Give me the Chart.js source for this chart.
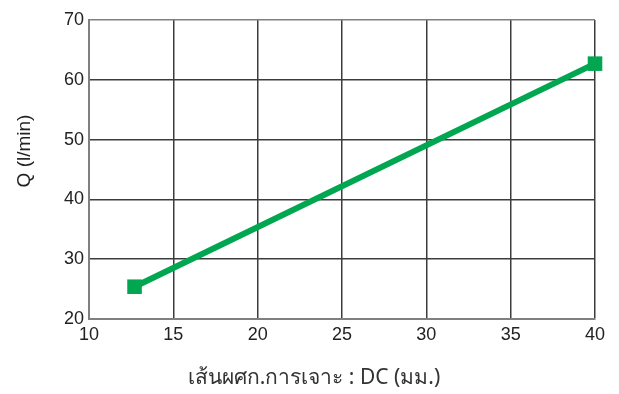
<!DOCTYPE html>
<html>
<head>
<meta charset="utf-8">
<script src="https://cdn.jsdelivr.net/npm/chart.js@4/dist/chart.umd.min.js"></script>
<style>
  html, body { margin: 0; padding: 0; background: #fff; }
  #wrap { width: 619px; height: 394px; }
</style>
</head>
<body>
<div id="wrap"><canvas id="flowChart"></canvas></div>
<script>
// Drill diameter DC (mm) vs flow Q (l/min)
const diameters = [12.7, 40];
const flows = [25.4, 62.7];
const xTicks = [10, 15, 20, 25, 30, 35, 40];
const yTicks = [20, 30, 40, 50, 60, 70];
const xTitle = 'เส้นผศก.การเจาะ : DC (มม.)';
const yTitle = 'Q (l/min)';

const green = '#00a650';
const fontFamily = '"Liberation Sans", "Noto Sans", sans-serif';

const points = diameters.map((d, i) => ({ x: d, y: flows[i] }));

// Inner grid dark, outer frame lighter gray
function gridColor(ctx, edges) {
    const v = ctx.tick ? ctx.tick.value : null;
    return edges.includes(v) ? '#808080' : '#3c3c3c';
}

// axis titles sit off-centre in the original, so draw them by hand
const titlesPlugin = {
    id: 'axisTitles',
    afterDraw(chart) {
        const c = chart.ctx;
        c.save();
        c.textAlign = 'center';
        c.textBaseline = 'middle';

        c.font = '21px "Noto Sans", sans-serif';
        c.fillStyle = '#333';
        c.fillText(xTitle, 314, 378);

        c.font = '19px ' + fontFamily;
        c.fillStyle = '#222';
        c.translate(25, 151);
        c.rotate(-Math.PI / 2);
        c.fillText(yTitle, 0, 0);
        c.restore();
    }
};

const ctx = document.getElementById('flowChart').getContext('2d');
new Chart(ctx, {
    type: 'scatter',
    data: {
        datasets: [{
            data: points,
            showLine: true,
            clip: false,
            borderColor: green,
            backgroundColor: green,
            borderWidth: 6,
            pointStyle: 'rect',
            pointRadius: 10.3,
            pointBorderWidth: 0,
            pointHoverRadius: 10.3
        }]
    },
    options: {
        responsive: true,
        maintainAspectRatio: false,
        animation: false,
        layout: { padding: { top: 20, right: 24, left: 0, bottom: 0 } },
        plugins: {
            legend: { display: false },
            tooltip: { enabled: false }
        },
        scales: {
            x: {
                type: 'linear',
                min: 10,
                max: 40,
                afterBuildTicks: s => { s.ticks = xTicks.map(v => ({ value: v })); },
                afterFit: s => { s.height = 75; },
                grid: {
                    color: c => gridColor(c, [10]),
                    lineWidth: 1.5,
                    drawTicks: false
                },
                border: { color: '#808080', width: 2 },
                ticks: {
                    padding: 5,
                    color: '#222',
                    font: { family: fontFamily, size: 18 },
                    maxRotation: 0
                }
            },
            y: {
                type: 'linear',
                min: 20,
                max: 70,
                afterBuildTicks: s => { s.ticks = yTicks.map(v => ({ value: v })); },
                afterFit: s => { s.width = 89; },
                grid: {
                    color: c => gridColor(c, [20, 70]),
                    lineWidth: 1.5,
                    drawTicks: false
                },
                border: { color: '#808080', width: 2 },
                ticks: {
                    padding: 5,
                    color: '#222',
                    font: { family: fontFamily, size: 18 }
                }
            }
        }
    },
    plugins: [titlesPlugin]
});
</script>
</body>
</html>
